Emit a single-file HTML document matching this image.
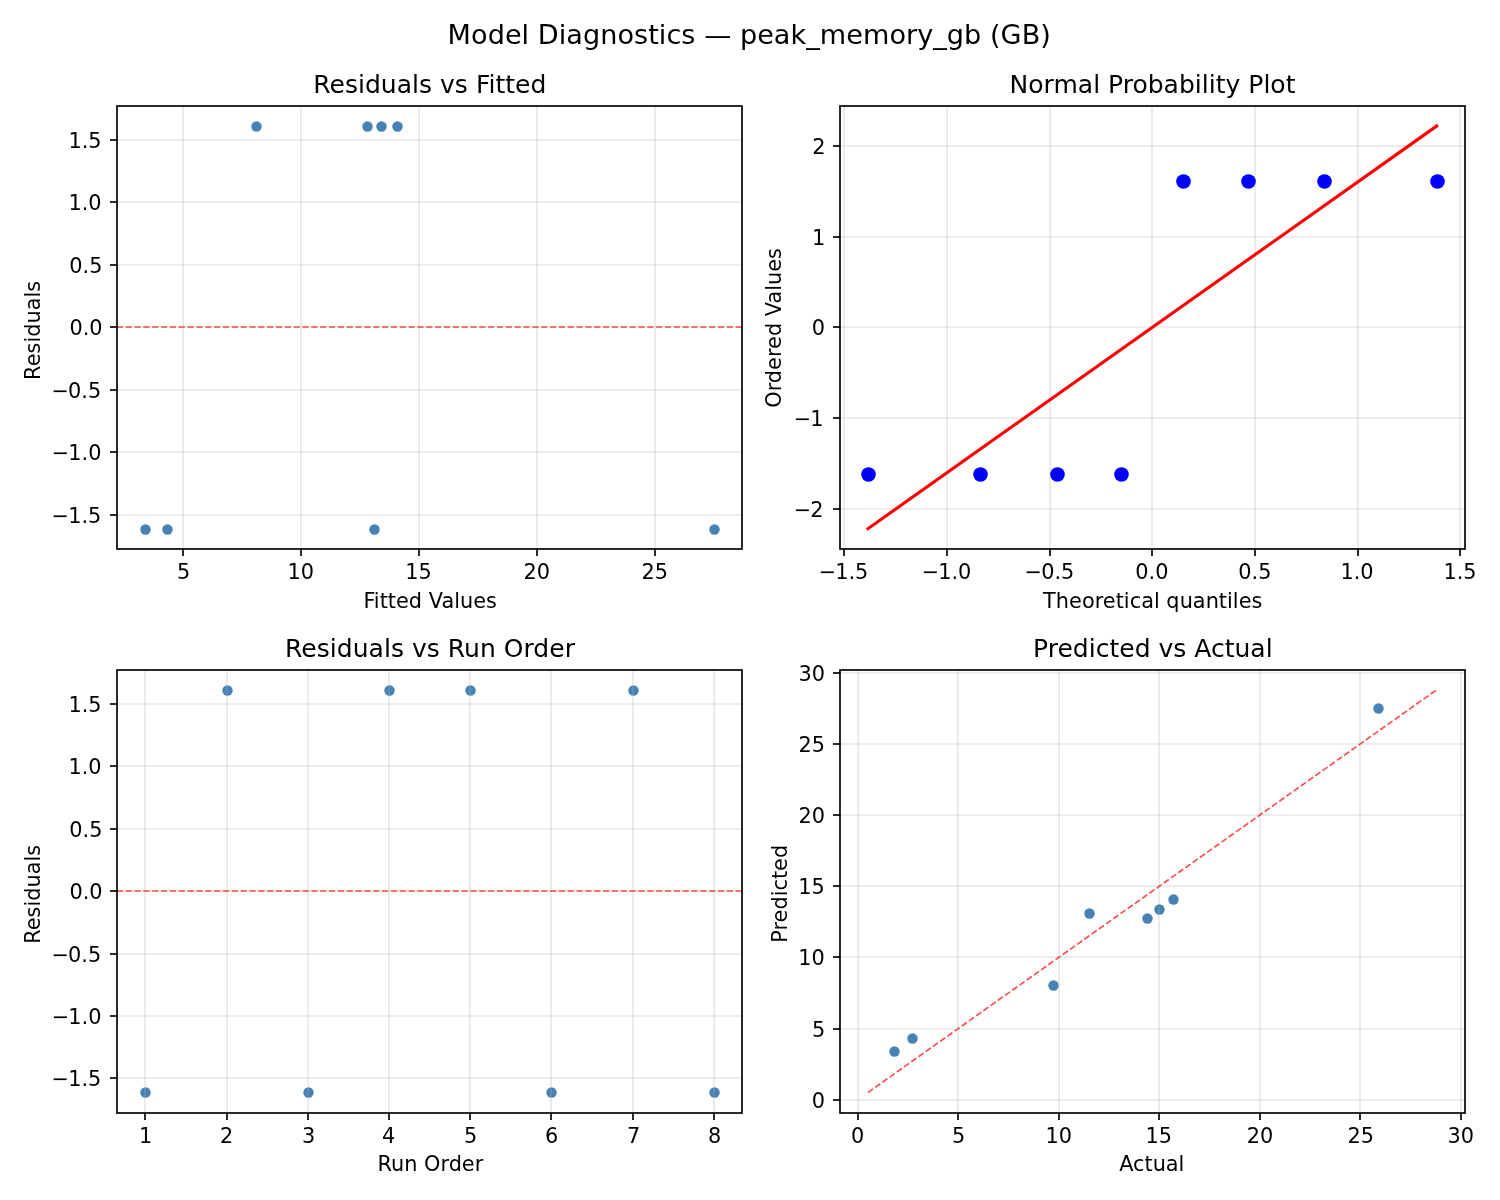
<!DOCTYPE html>
<html lang="en">
<head>
<meta charset="utf-8">
<title>Model Diagnostics — peak_memory_gb (GB)</title>
<style>
html,body{margin:0;padding:0;background:#fff;}
body{width:1500px;height:1200px;overflow:hidden;font-family:"DejaVu Sans", "Liberation Sans", sans-serif;}
svg{display:block;}
text{white-space:pre;}
</style>
</head>
<body>
<svg width="1500" height="1200" viewBox="0 0 1500 1200" font-family='"DejaVu Sans", "Liberation Sans", sans-serif' fill="#000">
<rect x="0" y="0" width="1500" height="1200" fill="#ffffff"/>
<g>
<clipPath id="c0"><rect x="116.85" y="105.9" width="625.55" height="442.88"/></clipPath>
<g fill="#4682b4" clip-path="url(#c0)">
<circle cx="145.5" cy="529.5" r="5.2"/>
<circle cx="367.5" cy="126.5" r="5.2"/>
<circle cx="167.5" cy="529.5" r="5.2"/>
<circle cx="256.5" cy="126.5" r="5.2"/>
<circle cx="381.5" cy="126.5" r="5.2"/>
<circle cx="374.5" cy="529.5" r="5.2"/>
<circle cx="397.5" cy="126.5" r="5.2"/>
<circle cx="714.5" cy="529.5" r="5.2"/>
</g>
<g stroke="#b0b0b0" stroke-opacity="0.3" stroke-width="1.67" fill="none">
<line x1="183" y1="105.9" x2="183" y2="548.78"/>
<line x1="301" y1="105.9" x2="301" y2="548.78"/>
<line x1="419" y1="105.9" x2="419" y2="548.78"/>
<line x1="537" y1="105.9" x2="537" y2="548.78"/>
<line x1="655" y1="105.9" x2="655" y2="548.78"/>
<line x1="116.85" y1="515" x2="742.4" y2="515"/>
<line x1="116.85" y1="452" x2="742.4" y2="452"/>
<line x1="116.85" y1="390" x2="742.4" y2="390"/>
<line x1="116.85" y1="327" x2="742.4" y2="327"/>
<line x1="116.85" y1="265" x2="742.4" y2="265"/>
<line x1="116.85" y1="202" x2="742.4" y2="202"/>
<line x1="116.85" y1="140" x2="742.4" y2="140"/>
</g>
<g stroke="#000" stroke-width="1.67" fill="none">
<line x1="183" y1="549" x2="183" y2="556"/>
<line x1="301" y1="549" x2="301" y2="556"/>
<line x1="419" y1="549" x2="419" y2="556"/>
<line x1="537" y1="549" x2="537" y2="556"/>
<line x1="655" y1="549" x2="655" y2="556"/>
<line x1="110" y1="515" x2="117" y2="515"/>
<line x1="110" y1="452" x2="117" y2="452"/>
<line x1="110" y1="390" x2="117" y2="390"/>
<line x1="110" y1="327" x2="117" y2="327"/>
<line x1="110" y1="265" x2="117" y2="265"/>
<line x1="110" y1="202" x2="117" y2="202"/>
<line x1="110" y1="140" x2="117" y2="140"/>
</g>
<line x1="116.85" y1="327" x2="742.4" y2="327" stroke="#ff0000" stroke-opacity="0.7" stroke-width="1.67" stroke-linecap="butt" stroke-dasharray="6.17 2.67" clip-path="url(#c0)"/>
<rect x="117" y="106" width="625" height="443" fill="none" stroke="#000" stroke-width="1.67"/>
<text x="183.51" y="579.37" font-size="20.83" text-anchor="middle">5</text>
<text x="300.69" y="579.37" font-size="20.83" text-anchor="middle">10</text>
<text x="418.61" y="579.37" font-size="20.83" text-anchor="middle">15</text>
<text x="536.84" y="579.37" font-size="20.83" text-anchor="middle">20</text>
<text x="654.76" y="579.37" font-size="20.83" text-anchor="middle">25</text>
<text x="100.4" y="522.66" font-size="20.83" text-anchor="end" dx="0.9 -0.9">−1.5</text>
<text x="100.51" y="460.22" font-size="20.83" text-anchor="end" dx="0.9 -0.9">−1.0</text>
<text x="100.34" y="397.78" font-size="20.83" text-anchor="end" dx="0.9 -0.9">−0.5</text>
<text x="102.5" y="335.34" font-size="20.83" text-anchor="end">0.0</text>
<text x="102.48" y="272.9" font-size="20.83" text-anchor="end">0.5</text>
<text x="101.54" y="210.46" font-size="20.83" text-anchor="end">1.0</text>
<text x="101.5" y="148.02" font-size="20.83" text-anchor="end">1.5</text>
<text x="429.82" y="93.4" font-size="25" text-anchor="middle" textLength="233.12" lengthAdjust="spacing">Residuals vs Fitted</text>
<text x="430.13" y="607.7" font-size="20.83" text-anchor="middle" textLength="133.5" lengthAdjust="spacing">Fitted Values</text>
<text transform="translate(40.31 330.38) rotate(-90)" font-size="20.83" text-anchor="middle" textLength="99" lengthAdjust="spacing">Residuals</text>
</g>
<g>
<clipPath id="c1"><rect x="839.57" y="105.9" width="625.55" height="442.88"/></clipPath>
<g stroke="#b0b0b0" stroke-opacity="0.3" stroke-width="1.67" fill="none">
<line x1="844" y1="105.9" x2="844" y2="548.78"/>
<line x1="947" y1="105.9" x2="947" y2="548.78"/>
<line x1="1050" y1="105.9" x2="1050" y2="548.78"/>
<line x1="1152" y1="105.9" x2="1152" y2="548.78"/>
<line x1="1255" y1="105.9" x2="1255" y2="548.78"/>
<line x1="1358" y1="105.9" x2="1358" y2="548.78"/>
<line x1="1460" y1="105.9" x2="1460" y2="548.78"/>
<line x1="839.57" y1="509" x2="1465.11" y2="509"/>
<line x1="839.57" y1="418" x2="1465.11" y2="418"/>
<line x1="839.57" y1="327" x2="1465.11" y2="327"/>
<line x1="839.57" y1="237" x2="1465.11" y2="237"/>
<line x1="839.57" y1="146" x2="1465.11" y2="146"/>
</g>
<g stroke="#000" stroke-width="1.67" fill="none">
<line x1="844" y1="549" x2="844" y2="556"/>
<line x1="947" y1="549" x2="947" y2="556"/>
<line x1="1050" y1="549" x2="1050" y2="556"/>
<line x1="1152" y1="549" x2="1152" y2="556"/>
<line x1="1255" y1="549" x2="1255" y2="556"/>
<line x1="1358" y1="549" x2="1358" y2="556"/>
<line x1="1460" y1="549" x2="1460" y2="556"/>
<line x1="833" y1="509" x2="840" y2="509"/>
<line x1="833" y1="418" x2="840" y2="418"/>
<line x1="833" y1="327" x2="840" y2="327"/>
<line x1="833" y1="237" x2="840" y2="237"/>
<line x1="833" y1="146" x2="840" y2="146"/>
</g>
<g fill="#0000ff" clip-path="url(#c1)">
<circle cx="868.5" cy="474.5" r="7.29"/>
<circle cx="980.5" cy="474.5" r="7.29"/>
<circle cx="1057.5" cy="474.5" r="7.29"/>
<circle cx="1121.5" cy="474.5" r="7.29"/>
<circle cx="1183.5" cy="181.5" r="7.29"/>
<circle cx="1248.5" cy="181.5" r="7.29"/>
<circle cx="1324.5" cy="181.5" r="7.29"/>
<circle cx="1437.5" cy="181.5" r="7.29"/>
</g>
<line x1="868" y1="528.65" x2="1436.68" y2="126.03" stroke="#ff0000" stroke-opacity="1" stroke-width="3.12" stroke-linecap="square" clip-path="url(#c1)"/>
<rect x="840" y="106" width="625" height="443" fill="none" stroke="#000" stroke-width="1.67"/>
<text x="842.57" y="579.37" font-size="20.83" text-anchor="middle" dx="0.9 -0.9">−1.5</text>
<text x="945.65" y="579.37" font-size="20.83" text-anchor="middle" dx="0.9 -0.9">−1.0</text>
<text x="1048.52" y="579.37" font-size="20.83" text-anchor="middle" dx="0.9 -0.9">−0.5</text>
<text x="1151.93" y="579.37" font-size="20.83" text-anchor="middle">0.0</text>
<text x="1254.93" y="579.37" font-size="20.83" text-anchor="middle">0.5</text>
<text x="1357.01" y="579.37" font-size="20.83" text-anchor="middle">1.0</text>
<text x="1459.98" y="579.37" font-size="20.83" text-anchor="middle">1.5</text>
<text x="822.64" y="516.98" font-size="20.83" text-anchor="end" dx="0.9 -0.9">−2</text>
<text x="822.65" y="426.16" font-size="20.83" text-anchor="end" dx="0.9 -0.9">−1</text>
<text x="825.12" y="335.34" font-size="20.83" text-anchor="end">0</text>
<text x="825.32" y="244.52" font-size="20.83" text-anchor="end">1</text>
<text x="825.43" y="153.7" font-size="20.83" text-anchor="end">2</text>
<text x="1152.51" y="93.4" font-size="25" text-anchor="middle" textLength="285.88" lengthAdjust="spacing">Normal Probability Plot</text>
<text x="1152.74" y="607.7" font-size="20.83" text-anchor="middle" textLength="219.25" lengthAdjust="spacing">Theoretical quantiles</text>
<text transform="translate(780.9 327.91) rotate(-90)" font-size="20.83" text-anchor="middle" textLength="159.75" lengthAdjust="spacing">Ordered Values</text>
</g>
<g>
<clipPath id="c2"><rect x="116.85" y="669.7" width="625.55" height="442.88"/></clipPath>
<g fill="#4682b4" clip-path="url(#c2)">
<circle cx="145.5" cy="1092.5" r="5.2"/>
<circle cx="227.5" cy="690.5" r="5.2"/>
<circle cx="308.5" cy="1092.5" r="5.2"/>
<circle cx="389.5" cy="690.5" r="5.2"/>
<circle cx="470.5" cy="690.5" r="5.2"/>
<circle cx="551.5" cy="1092.5" r="5.2"/>
<circle cx="633.5" cy="690.5" r="5.2"/>
<circle cx="714.5" cy="1092.5" r="5.2"/>
</g>
<g stroke="#b0b0b0" stroke-opacity="0.3" stroke-width="1.67" fill="none">
<line x1="145" y1="669.7" x2="145" y2="1112.58"/>
<line x1="227" y1="669.7" x2="227" y2="1112.58"/>
<line x1="308" y1="669.7" x2="308" y2="1112.58"/>
<line x1="389" y1="669.7" x2="389" y2="1112.58"/>
<line x1="470" y1="669.7" x2="470" y2="1112.58"/>
<line x1="551" y1="669.7" x2="551" y2="1112.58"/>
<line x1="633" y1="669.7" x2="633" y2="1112.58"/>
<line x1="714" y1="669.7" x2="714" y2="1112.58"/>
<line x1="116.85" y1="1078" x2="742.4" y2="1078"/>
<line x1="116.85" y1="1016" x2="742.4" y2="1016"/>
<line x1="116.85" y1="954" x2="742.4" y2="954"/>
<line x1="116.85" y1="891" x2="742.4" y2="891"/>
<line x1="116.85" y1="829" x2="742.4" y2="829"/>
<line x1="116.85" y1="766" x2="742.4" y2="766"/>
<line x1="116.85" y1="704" x2="742.4" y2="704"/>
</g>
<g stroke="#000" stroke-width="1.67" fill="none">
<line x1="145" y1="1113" x2="145" y2="1120"/>
<line x1="227" y1="1113" x2="227" y2="1120"/>
<line x1="308" y1="1113" x2="308" y2="1120"/>
<line x1="389" y1="1113" x2="389" y2="1120"/>
<line x1="470" y1="1113" x2="470" y2="1120"/>
<line x1="551" y1="1113" x2="551" y2="1120"/>
<line x1="633" y1="1113" x2="633" y2="1120"/>
<line x1="714" y1="1113" x2="714" y2="1120"/>
<line x1="110" y1="1078" x2="117" y2="1078"/>
<line x1="110" y1="1016" x2="117" y2="1016"/>
<line x1="110" y1="954" x2="117" y2="954"/>
<line x1="110" y1="891" x2="117" y2="891"/>
<line x1="110" y1="829" x2="117" y2="829"/>
<line x1="110" y1="766" x2="117" y2="766"/>
<line x1="110" y1="704" x2="117" y2="704"/>
</g>
<line x1="116.85" y1="891" x2="742.4" y2="891" stroke="#ff0000" stroke-opacity="0.7" stroke-width="1.67" stroke-linecap="butt" stroke-dasharray="6.17 2.67" clip-path="url(#c2)"/>
<rect x="117" y="670" width="625" height="443" fill="none" stroke="#000" stroke-width="1.67"/>
<text x="145.63" y="1143.17" font-size="20.83" text-anchor="middle">1</text>
<text x="226.73" y="1143.17" font-size="20.83" text-anchor="middle">2</text>
<text x="308.65" y="1143.17" font-size="20.83" text-anchor="middle">3</text>
<text x="388.67" y="1143.17" font-size="20.83" text-anchor="middle">4</text>
<text x="470.7" y="1143.17" font-size="20.83" text-anchor="middle">5</text>
<text x="551.59" y="1143.17" font-size="20.83" text-anchor="middle">6</text>
<text x="633.58" y="1143.17" font-size="20.83" text-anchor="middle">7</text>
<text x="714.62" y="1143.17" font-size="20.83" text-anchor="middle">8</text>
<text x="100.4" y="1086.47" font-size="20.83" text-anchor="end" dx="0.9 -0.9">−1.5</text>
<text x="100.51" y="1024.02" font-size="20.83" text-anchor="end" dx="0.9 -0.9">−1.0</text>
<text x="100.34" y="961.58" font-size="20.83" text-anchor="end" dx="0.9 -0.9">−0.5</text>
<text x="102.5" y="899.14" font-size="20.83" text-anchor="end">0.0</text>
<text x="102.48" y="836.7" font-size="20.83" text-anchor="end">0.5</text>
<text x="101.54" y="774.26" font-size="20.83" text-anchor="end">1.0</text>
<text x="101.5" y="711.82" font-size="20.83" text-anchor="end">1.5</text>
<text x="430" y="657.2" font-size="25" text-anchor="middle" textLength="289.88" lengthAdjust="spacing">Residuals vs Run Order</text>
<text x="430.39" y="1170.5" font-size="20.83" text-anchor="middle" textLength="105.75" lengthAdjust="spacing">Run Order</text>
<text transform="translate(40.31 894.33) rotate(-90)" font-size="20.83" text-anchor="middle" textLength="99" lengthAdjust="spacing">Residuals</text>
</g>
<g>
<clipPath id="c3"><rect x="839.57" y="669.7" width="625.55" height="442.88"/></clipPath>
<g fill="#4682b4" clip-path="url(#c3)">
<circle cx="894.5" cy="1051.5" r="5.2"/>
<circle cx="1147.5" cy="918.5" r="5.2"/>
<circle cx="912.5" cy="1038.5" r="5.2"/>
<circle cx="1053.5" cy="985.5" r="5.2"/>
<circle cx="1159.5" cy="909.5" r="5.2"/>
<circle cx="1089.5" cy="913.5" r="5.2"/>
<circle cx="1173.5" cy="899.5" r="5.2"/>
<circle cx="1378.5" cy="708.5" r="5.2"/>
</g>
<g stroke="#b0b0b0" stroke-opacity="0.3" stroke-width="1.67" fill="none">
<line x1="858" y1="669.7" x2="858" y2="1112.58"/>
<line x1="958" y1="669.7" x2="958" y2="1112.58"/>
<line x1="1059" y1="669.7" x2="1059" y2="1112.58"/>
<line x1="1159" y1="669.7" x2="1159" y2="1112.58"/>
<line x1="1260" y1="669.7" x2="1260" y2="1112.58"/>
<line x1="1360" y1="669.7" x2="1360" y2="1112.58"/>
<line x1="1461" y1="669.7" x2="1461" y2="1112.58"/>
<line x1="839.57" y1="1100" x2="1465.11" y2="1100"/>
<line x1="839.57" y1="1029" x2="1465.11" y2="1029"/>
<line x1="839.57" y1="957" x2="1465.11" y2="957"/>
<line x1="839.57" y1="886" x2="1465.11" y2="886"/>
<line x1="839.57" y1="815" x2="1465.11" y2="815"/>
<line x1="839.57" y1="744" x2="1465.11" y2="744"/>
<line x1="839.57" y1="673" x2="1465.11" y2="673"/>
</g>
<g stroke="#000" stroke-width="1.67" fill="none">
<line x1="858" y1="1113" x2="858" y2="1120"/>
<line x1="958" y1="1113" x2="958" y2="1120"/>
<line x1="1059" y1="1113" x2="1059" y2="1120"/>
<line x1="1159" y1="1113" x2="1159" y2="1120"/>
<line x1="1260" y1="1113" x2="1260" y2="1120"/>
<line x1="1360" y1="1113" x2="1360" y2="1120"/>
<line x1="1461" y1="1113" x2="1461" y2="1120"/>
<line x1="833" y1="1100" x2="840" y2="1100"/>
<line x1="833" y1="1029" x2="840" y2="1029"/>
<line x1="833" y1="957" x2="840" y2="957"/>
<line x1="833" y1="886" x2="840" y2="886"/>
<line x1="833" y1="815" x2="840" y2="815"/>
<line x1="833" y1="744" x2="840" y2="744"/>
<line x1="833" y1="673" x2="840" y2="673"/>
</g>
<line x1="868" y1="1092.45" x2="1436.68" y2="689.83" stroke="#ff0000" stroke-opacity="0.7" stroke-width="1.67" stroke-linecap="butt" stroke-dasharray="6.17 2.67" clip-path="url(#c3)"/>
<rect x="840" y="670" width="625" height="443" fill="none" stroke="#000" stroke-width="1.67"/>
<text x="857.6" y="1143.17" font-size="20.83" text-anchor="middle">0</text>
<text x="958.68" y="1143.17" font-size="20.83" text-anchor="middle">5</text>
<text x="1058.66" y="1143.17" font-size="20.83" text-anchor="middle">10</text>
<text x="1158.65" y="1143.17" font-size="20.83" text-anchor="middle">15</text>
<text x="1259.91" y="1143.17" font-size="20.83" text-anchor="middle">20</text>
<text x="1360.88" y="1143.17" font-size="20.83" text-anchor="middle">25</text>
<text x="1460.75" y="1143.17" font-size="20.83" text-anchor="middle">30</text>
<text x="825.12" y="1107.75" font-size="20.83" text-anchor="end">0</text>
<text x="825.17" y="1036.57" font-size="20.83" text-anchor="end">5</text>
<text x="824.88" y="965.39" font-size="20.83" text-anchor="end">10</text>
<text x="824.82" y="894.22" font-size="20.83" text-anchor="end">15</text>
<text x="825.06" y="823.04" font-size="20.83" text-anchor="end">20</text>
<text x="825" y="751.86" font-size="20.83" text-anchor="end">25</text>
<text x="825.08" y="680.69" font-size="20.83" text-anchor="end">30</text>
<text x="1152.85" y="657.2" font-size="25" text-anchor="middle" textLength="239.62" lengthAdjust="spacing">Predicted vs Actual</text>
<text x="1151.77" y="1170.5" font-size="20.83" text-anchor="middle" textLength="65.25" lengthAdjust="spacing">Actual</text>
<text transform="translate(787.15 893.8) rotate(-90)" font-size="20.83" text-anchor="middle" textLength="98" lengthAdjust="spacing">Predicted</text>
</g>
<text x="749.22" y="44" font-size="27.08" text-anchor="middle" textLength="603.25" lengthAdjust="spacing">Model Diagnostics — peak_memory_gb (GB)</text>
</svg>
</body>
</html>
